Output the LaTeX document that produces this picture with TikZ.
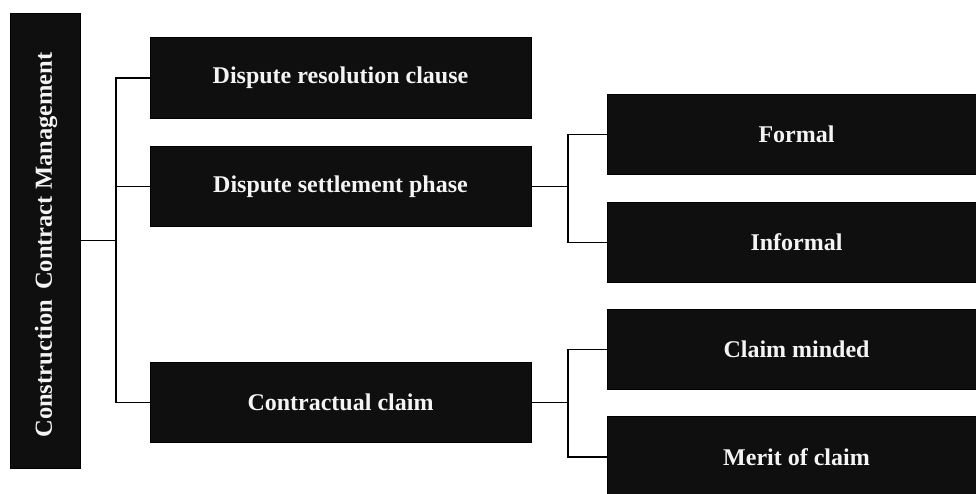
\documentclass[tikz,border=0pt]{standalone}
\usepackage{fontspec}
\setmainfont{Liberation Serif}
\definecolor{boxfill}{HTML}{0F0F0F}
\definecolor{boxtext}{HTML}{F4F4F4}
\begin{document}
\begin{tikzpicture}[x=1pt,y=-1pt,
  blk/.style={draw=black,line width=0.8pt,fill=boxfill,text=boxtext,inner sep=0pt,
    font=\fontsize{24}{28}\selectfont\bfseries,rectangle},
  midbox/.style={blk,minimum width=381pt,minimum height=80.5pt},
  rightbox/.style={blk,minimum width=379pt,minimum height=80.5pt},
  conn/.style={draw=black,line width=1.4pt}]
\useasboundingbox (0,0) rectangle (976,494);
\clip (0,0) rectangle (976,494);
\fill[white] (0,0) rectangle (976,494);

\node[blk,minimum width=70pt,minimum height=455pt] (root) at (45,240.5) {};
\node[text=boxtext,font=\fontsize{24.5}{28}\selectfont\bfseries,inner sep=0pt,rotate=90]
  (roottext) at (46,245) {Construction\, Contract Management};

\node[midbox] (b1) at (340.5,78) {Dispute resolution clause};
\node[midbox] (b2) at (340.5,186.5) {Dispute settlement phase};
\node[midbox] (b3) at (340.5,402.5) {Contractual claim};

\node[rightbox] (r1) at (796.5,134.5) {Formal};
\node[rightbox] (r2) at (796.5,242.5) {Informal};
\node[rightbox] (r3) at (796.5,349.5) {Claim minded};
\node[rightbox] (r4) at (796.5,457) {Merit of claim};

\coordinate (j1) at (116,240.5);
\coordinate (j2) at (568,186.5);
\coordinate (j3) at (568,402.5);

\draw[conn] (root.east) -- (j1);
\draw[conn] (b1.west) -| (j1);
\draw[conn] (j1) |- (b3.west);
\draw[conn] (b2.west) -- (b2.west -| j1);

\draw[conn] (b2.east) -- (j2);
\draw[conn] (r1.west) -| (j2);
\draw[conn] (j2) |- (r2.west);

\draw[conn] (b3.east) -- (j3);
\draw[conn] (r3.west) -| (j3);
\draw[conn] (j3) |- (r4.west);
\end{tikzpicture}
\end{document}
